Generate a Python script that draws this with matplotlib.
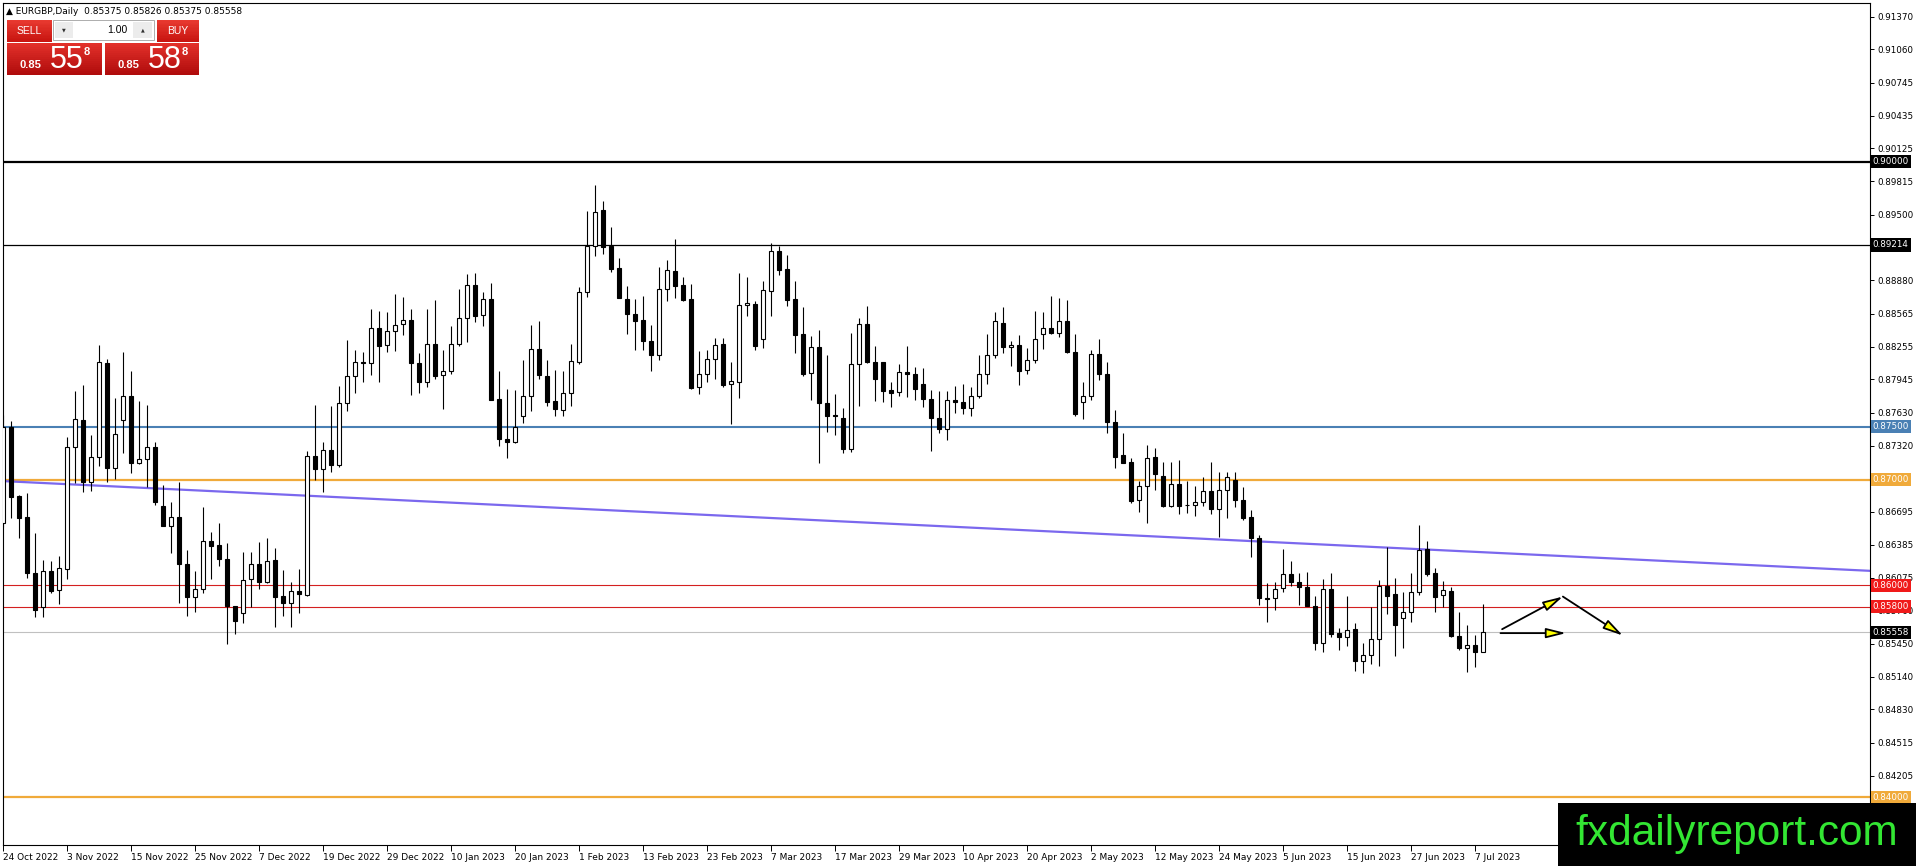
import matplotlib
matplotlib.use("Agg")
import matplotlib.pyplot as plt
import numpy as np
import pandas as pd
from matplotlib.patches import Rectangle
from matplotlib.transforms import blended_transform_factory

W, H = 1916, 866

# daily EURGBP candles, one per weekday from 24 Oct 2022
start_date = "2022-10-24"
opens = [
    0.86593, 0.87500, 0.86845, 0.86643, 0.86114, 0.85799, 0.86133, 0.85953, 0.86152, 0.87305,
    0.87563, 0.86980, 0.87210, 0.88102, 0.87106, 0.87560, 0.87787, 0.87154, 0.87191, 0.87305,
    0.86750, 0.86564, 0.86643, 0.86199, 0.85894, 0.85966, 0.86420, 0.86382, 0.86249, 0.85805,
    0.85742, 0.86057, 0.86199, 0.86035, 0.86240, 0.85900, 0.85837, 0.85947, 0.85909, 0.87223,
    0.87100, 0.87280, 0.87138, 0.87720, 0.87973, 0.88105, 0.88099, 0.88429, 0.88265, 0.88398,
    0.88467, 0.88508, 0.88099, 0.87916, 0.88278, 0.87982, 0.88026, 0.88278, 0.88524, 0.88839,
    0.88549, 0.88706, 0.87761, 0.87387, 0.87358, 0.87595, 0.87793, 0.88231, 0.87979, 0.87743,
    0.87658, 0.87815, 0.88108, 0.88769, 0.89204, 0.89547, 0.89201, 0.88996, 0.88706, 0.88565,
    0.88508, 0.88310, 0.88171, 0.88801, 0.88971, 0.88839, 0.88706, 0.87872, 0.87998, 0.88136,
    0.88281, 0.87900, 0.87925, 0.88643, 0.88659, 0.88325, 0.88776, 0.89160, 0.88990, 0.88706,
    0.88376, 0.88004, 0.88250, 0.87720, 0.87610, 0.87579, 0.87286, 0.88089, 0.88467, 0.88108,
    0.88108, 0.87847, 0.87824, 0.88013, 0.87994, 0.87903, 0.87758, 0.87585, 0.87475, 0.87746,
    0.87730, 0.87673, 0.87784, 0.87994, 0.88177, 0.88476, 0.88250, 0.88272, 0.88036, 0.88130,
    0.88373, 0.88429, 0.88382, 0.88492, 0.88202, 0.87736, 0.87784, 0.88184, 0.87995, 0.87547,
    0.87232, 0.87163, 0.86807, 0.86942, 0.87210, 0.87034, 0.86753, 0.86958, 0.86760, 0.86760,
    0.86785, 0.86892, 0.86719, 0.86902, 0.86996, 0.86807, 0.86643, 0.86445, 0.85878, 0.85878,
    0.85972, 0.86104, 0.86028, 0.85981, 0.85808, 0.85461, 0.85965, 0.85550, 0.85509, 0.85587,
    0.85288, 0.85342, 0.85499, 0.85997, 0.85918, 0.85691, 0.85754, 0.85934, 0.86343, 0.86117,
    0.85909, 0.85943, 0.85524, 0.85405, 0.85439, 0.85375,
]
highs = [
    0.87610, 0.87557, 0.86850, 0.86870, 0.86492, 0.86240, 0.86230, 0.86278, 0.87405, 0.87837,
    0.87894, 0.87421, 0.88272, 0.88136, 0.87768, 0.88202, 0.88029, 0.87743, 0.87702, 0.87358,
    0.86949, 0.86785, 0.86980, 0.86335, 0.86139, 0.86738, 0.86508, 0.86593, 0.86397, 0.85805,
    0.86319, 0.86319, 0.86413, 0.86451, 0.86350, 0.86146, 0.86029, 0.86155, 0.87270, 0.87705,
    0.87358, 0.87695, 0.87878, 0.88319, 0.88225, 0.88199, 0.88609, 0.88593, 0.88580, 0.88754,
    0.88725, 0.88609, 0.88193, 0.88609, 0.88697, 0.88225, 0.88451, 0.88801, 0.88943, 0.88949,
    0.88773, 0.88855, 0.88020, 0.87856, 0.87847, 0.88130, 0.88454, 0.88499, 0.88130, 0.88036,
    0.88020, 0.88281, 0.88817, 0.89538, 0.89777, 0.89633, 0.89384, 0.89091, 0.88823, 0.88706,
    0.88735, 0.88461, 0.89006, 0.89075, 0.89273, 0.88908, 0.88845, 0.88209, 0.88225, 0.88335,
    0.88335, 0.88105, 0.88949, 0.88908, 0.88681, 0.88870, 0.89233, 0.89201, 0.89122, 0.88877,
    0.88625, 0.88350, 0.88414, 0.88177, 0.87809, 0.87673, 0.88382, 0.88524, 0.88640, 0.88256,
    0.88108, 0.87921, 0.88092, 0.88262, 0.88061, 0.88051, 0.87847, 0.87837, 0.87837, 0.87878,
    0.87900, 0.87872, 0.88177, 0.88376, 0.88580, 0.88628, 0.88303, 0.88366, 0.88240, 0.88593,
    0.88577, 0.88735, 0.88713, 0.88697, 0.88373, 0.87919, 0.88225, 0.88325, 0.88105, 0.87658,
    0.87437, 0.87201, 0.86990, 0.87327, 0.87295, 0.87163, 0.87163, 0.87185, 0.86990, 0.86939,
    0.87021, 0.87163, 0.87075, 0.87075, 0.87075, 0.86933, 0.86713, 0.86476, 0.86020, 0.86029,
    0.86343, 0.86230, 0.86117, 0.86129, 0.85896, 0.86060, 0.86117, 0.85594, 0.85896, 0.85650,
    0.85461, 0.85798, 0.86054, 0.86359, 0.86069, 0.85934, 0.86117, 0.86570, 0.86416, 0.86161,
    0.86044, 0.85990, 0.85745, 0.85625, 0.85531, 0.85826,
]
lows = [
    0.86550, 0.86634, 0.86445, 0.86067, 0.85698, 0.85705, 0.85931, 0.85824, 0.86057, 0.86965,
    0.86886, 0.86895, 0.87128, 0.86980, 0.87009, 0.87254, 0.87065, 0.87147, 0.86933, 0.86760,
    0.86564, 0.86303, 0.85837, 0.85711, 0.85752, 0.85925, 0.86057, 0.86186, 0.85452, 0.85538,
    0.85642, 0.85800, 0.85963, 0.86026, 0.85604, 0.85714, 0.85604, 0.85736, 0.85900, 0.86995,
    0.86886, 0.87068, 0.87122, 0.87642, 0.87815, 0.87925, 0.87982, 0.87916, 0.88199, 0.88209,
    0.88366, 0.87799, 0.87815, 0.87869, 0.87947, 0.87667, 0.87995, 0.88256, 0.88300, 0.88483,
    0.88445, 0.87746, 0.87320, 0.87201, 0.87349, 0.87532, 0.87651, 0.87950, 0.87698, 0.87601,
    0.87595, 0.87698, 0.88092, 0.88719, 0.89107, 0.89129, 0.88955, 0.88713, 0.88373, 0.88218,
    0.88218, 0.88029, 0.88124, 0.88681, 0.88713, 0.88681, 0.87856, 0.87809, 0.87919, 0.87950,
    0.87872, 0.87525, 0.87768, 0.88540, 0.88225, 0.88240, 0.88546, 0.88933, 0.88634, 0.88193,
    0.87973, 0.87752, 0.87160, 0.87453, 0.87421, 0.87254, 0.87264, 0.87695, 0.88099, 0.87743,
    0.87736, 0.87689, 0.87784, 0.87777, 0.87746, 0.87689, 0.87273, 0.87437, 0.87374, 0.87632,
    0.87620, 0.87604, 0.87768, 0.87900, 0.88146, 0.88193, 0.88076, 0.87894, 0.88000, 0.88099,
    0.88231, 0.88373, 0.88341, 0.88193, 0.87604, 0.87572, 0.87752, 0.87941, 0.87437, 0.87106,
    0.87154, 0.86776, 0.86690, 0.86587, 0.86901, 0.86744, 0.86744, 0.86675, 0.86687, 0.86656,
    0.86750, 0.86672, 0.86461, 0.86634, 0.86744, 0.86618, 0.86265, 0.85815, 0.85657, 0.85768,
    0.85940, 0.85991, 0.85814, 0.85802, 0.85392, 0.85373, 0.85518, 0.85392, 0.85430, 0.85194,
    0.85172, 0.85257, 0.85235, 0.85729, 0.85335, 0.85408, 0.85657, 0.85912, 0.86091, 0.85745,
    0.85792, 0.85518, 0.85392, 0.85184, 0.85231, 0.85375,
]
closes = [
    0.87500, 0.86839, 0.86640, 0.86120, 0.85768, 0.86133, 0.85950, 0.86161, 0.87305, 0.87569,
    0.86980, 0.87217, 0.88108, 0.87106, 0.87428, 0.87787, 0.87154, 0.87191, 0.87305, 0.86791,
    0.86564, 0.86643, 0.86199, 0.85894, 0.85966, 0.86420, 0.86375, 0.86246, 0.85805, 0.85667,
    0.86051, 0.86199, 0.86035, 0.86231, 0.85894, 0.85837, 0.85947, 0.85916, 0.87223, 0.87100,
    0.87280, 0.87138, 0.87720, 0.87979, 0.88108, 0.88099, 0.88429, 0.88256, 0.88398, 0.88461,
    0.88508, 0.88099, 0.87916, 0.88278, 0.87973, 0.88029, 0.88278, 0.88524, 0.88839, 0.88540,
    0.88703, 0.87752, 0.87380, 0.87358, 0.87500, 0.87793, 0.88231, 0.87982, 0.87736, 0.87667,
    0.87815, 0.88121, 0.88769, 0.89204, 0.89525, 0.89195, 0.88990, 0.88713, 0.88562, 0.88492,
    0.88303, 0.88171, 0.88801, 0.88980, 0.88823, 0.88697, 0.87862, 0.87998, 0.88139, 0.88272,
    0.87894, 0.87932, 0.88650, 0.88666, 0.88256, 0.88792, 0.89160, 0.88980, 0.88697, 0.88360,
    0.87998, 0.88250, 0.87720, 0.87604, 0.87595, 0.87286, 0.88089, 0.88467, 0.88108, 0.87950,
    0.87840, 0.87821, 0.88013, 0.87994, 0.87853, 0.87758, 0.87585, 0.87475, 0.87746, 0.87727,
    0.87673, 0.87784, 0.87994, 0.88177, 0.88492, 0.88250, 0.88272, 0.88029, 0.88130, 0.88325,
    0.88429, 0.88382, 0.88492, 0.88199, 0.87620, 0.87784, 0.88184, 0.87995, 0.87547, 0.87210,
    0.87160, 0.86801, 0.86942, 0.87201, 0.87053, 0.86753, 0.86958, 0.86753, 0.86757, 0.86785,
    0.86892, 0.86719, 0.86902, 0.87028, 0.86807, 0.86634, 0.86445, 0.85878, 0.85868, 0.85963,
    0.86104, 0.86028, 0.85981, 0.85808, 0.85461, 0.85965, 0.85540, 0.85509, 0.85581, 0.85288,
    0.85342, 0.85499, 0.85997, 0.85902, 0.85628, 0.85751, 0.85934, 0.86334, 0.86107, 0.85893,
    0.85956, 0.85524, 0.85405, 0.85439, 0.85376, 0.85558,
]

# horizontal levels drawn on the chart: (price, colour, width, label box colour)
levels = [
    (0.90000, "black", 1.6, "black"),
    (0.89214, "black", 0.9, "black"),
    (0.87500, "#4a80b4", 1.5, "#4a80b4"),
    (0.87000, "#f0aa3a", 1.6, "#f0aa3a"),
    (0.86000, "#d42020", 0.8, "#f01a1a"),
    (0.85800, "#d42020", 0.8, "#f01a1a"),
    (0.85558, "#c0c0c0", 0.8, "black"),
    (0.84000, "#f0aa3a", 1.6, "#f0aa3a"),
]
# scale labels that stay visible next to the level boxes
price_ticks = [0.91370, 0.91060, 0.90745, 0.90435, 0.90125, 0.89815, 0.89500,
               0.88880, 0.88565, 0.88255, 0.87945, 0.87630, 0.87320, 0.86695,
               0.86385, 0.86075, 0.85760, 0.85450, 0.85140, 0.84830, 0.84515, 0.84205]

# trend line and the forecast arrows (bar index, price)
trend_x = [0, 233.4]
trend_y = [0.86985, 0.86138]
arrows = [
    ((187.4, 0.85587), (195.0, 0.85895)),
    ((195.0, 0.85895), (202.5, 0.85527)),
    ((187.2, 0.85550), (195.4, 0.85550)),
]

n = len(opens)
dates = pd.bdate_range(start_date, periods=n)
idx = np.arange(n)
o = np.array(opens)
c = np.array(closes)
hi = np.array(highs)
lo = np.array(lows)

fig = plt.figure(figsize=(W / 100, H / 100), dpi=100)
ax = fig.add_axes([3 / W, 1 - 845 / H, (1870 - 3) / W, (845 - 3) / H])
ax.set_xlim(-0.04, 233.4)
ax.set_ylim(0.83550, 0.91498)

for p, col, lw, _ in levels:
    ax.axhline(p, color=col, lw=lw, zorder=1)
ax.plot(trend_x, trend_y, color="#7b68ee", lw=1.6, zorder=1, clip_on=True)

# candles
ax.vlines(idx, lo, hi, color="black", lw=0.8, zorder=2)
up = c >= o
body_bot = np.minimum(o, c)
body_h = np.abs(c - o)
ax.bar(idx, body_h, bottom=body_bot, width=0.5,
       color=np.where(up, "white", "black"), edgecolor="black", lw=0.8, zorder=3)

for start, tip in arrows:
    ax.annotate("", xy=tip, xytext=start,
                arrowprops=dict(arrowstyle="-|>,head_length=1.2,head_width=0.3",
                                fc="#ffff00", ec="black", lw=1.3,
                                shrinkA=0, shrinkB=0, mutation_scale=10),
                zorder=4)

# axes look
for s in ax.spines.values():
    s.set_color("black")
    s.set_linewidth(0.8)
ax.yaxis.tick_right()
ax.set_yticks(price_ticks)
ax.set_yticklabels(["%.5f" % v for v in price_ticks])
ax.tick_params(axis="y", length=3, width=0.7, pad=2, labelsize=6.3, colors="black")

tick_pos = list(range(0, n, 8))
tick_lab = [dates[i].strftime("%d %b %Y").lstrip("0") for i in tick_pos]
ax.set_xticks(tick_pos)
ax.set_xticklabels(tick_lab, ha="left")
ax.tick_params(axis="x", length=4, width=0.7, pad=2, labelsize=6.5)

# coloured price boxes on the right scale
tr = blended_transform_factory(ax.transAxes, ax.transData)
for p, _, _, bc in levels:
    ax.text(1.0015, p, "%.5f" % p, transform=tr, ha="left", va="center",
            fontsize=6.3, color="white", clip_on=False, zorder=10,
            bbox=dict(boxstyle="square,pad=0.25", fc=bc, ec="none"))


# ---- top-left header and trade panel (pixel coordinates) ----
def rect(x0, y0, x1, y1, **kw):
    r = Rectangle((x0 / W, 1 - y1 / H), (x1 - x0) / W, (y1 - y0) / H,
                  transform=fig.transFigure, **kw)
    fig.patches.append(r)


def gradient(x0, y0, x1, y1, top, bot, steps=16):
    t = np.array(matplotlib.colors.to_rgb(top))
    b = np.array(matplotlib.colors.to_rgb(bot))
    hgt = (y1 - y0) / steps
    for k in range(steps):
        f = k / (steps - 1)
        rect(x0, y0 + k * hgt, x1, y0 + (k + 1) * hgt + 0.3, fc=t * (1 - f) + b * f, ec="none")


def ftext(x, y, s, **kw):
    fig.text(x / W, 1 - y / H, s, **kw)


ftext(6, 11, "\u25b2 EURGBP,Daily  0.85375 0.85826 0.85375 0.85558", fontsize=6.5,
      va="center", ha="left", color="black")

gradient(7, 20, 52, 42, "#e83a30", "#c81410")
gradient(157, 20, 199, 42, "#e83a30", "#c81410")
rect(53, 20, 154, 40, fc="white", ec="#a0a0a0", lw=0.6)
rect(55, 22, 73, 38, fc="#ececec", ec="none")
rect(133, 22, 152, 38, fc="#ececec", ec="none")
gradient(7, 43, 102, 75, "#e2302a", "#b00c0c")
gradient(105, 43, 199, 75, "#e2302a", "#b00c0c")

pf = "Liberation Sans"
ftext(29.5, 31, "SELL", fontsize=7.5, family=pf, color="white", ha="center", va="center")
ftext(178, 31, "BUY", fontsize=7.5, family=pf, color="white", ha="center", va="center")
ftext(64, 30, "\u25bc", fontsize=3.5, color="#303030", ha="center", va="center")
ftext(142.5, 30, "\u25b2", fontsize=3.5, color="#303030", ha="center", va="center")
ftext(127, 30, "1.00", fontsize=7.5, family=pf, color="black", ha="right", va="center")
for x0, big in [(20, "55"), (118, "58")]:
    ftext(x0, 68, "0.85", fontsize=8, family=pf, weight="bold", color="white", ha="left", va="baseline")
    ftext(x0 + 30, 68, big, fontsize=22, family=pf, color="white", ha="left", va="baseline")
    ftext(x0 + 67, 52, "8", fontsize=8, family=pf, weight="bold", color="white", ha="center", va="center")

# watermark
rect(1558, 803, 1916, 866, fc="black", ec="none", zorder=20)
fig.text(1736.5 / W, 21 / H, "fxdailyreport.com", fontsize=30.5, family=pf,
         color="#33e633", ha="center", va="baseline", zorder=21)

fig.savefig("out.png", dpi=100)
